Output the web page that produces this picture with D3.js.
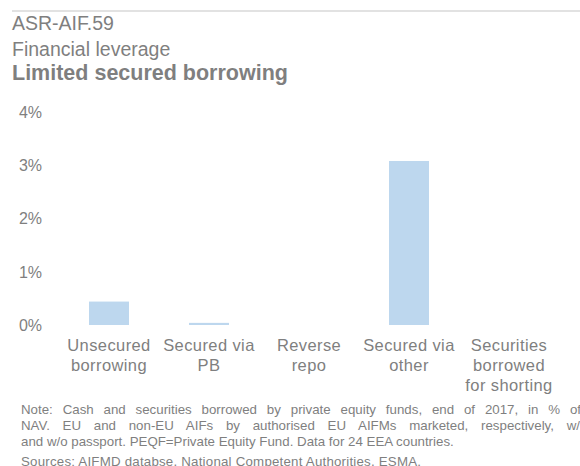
<!DOCTYPE html>
<html>
<head>
<meta charset="utf-8">
<script src="https://cdn.jsdelivr.net/npm/d3@7"></script>
<style>
  body { margin: 0; background: #fff; }
  svg text { font-family: "Liberation Sans", Arial, sans-serif; fill: #7f7f7f; }
</style>
</head>
<body>
<svg id="vis" width="580" height="466"></svg>
<script>
// categories and values (% of NAV)
let categories = [
    ["Unsecured", "borrowing"],
    ["Secured via", "PB"],
    ["Reverse", "repo"],
    ["Secured via", "other"],
    ["Securities", "borrowed", "for shorting"]
];
let values = [0.44, 0.04, 0, 3.08, 0];
let yTicks = [0, 1, 2, 3, 4];
let notes = [
    "Note: Cash and securities borrowed by private equity funds, end of 2017, in % of",
    "NAV. EU and non-EU AIFs by authorised EU AIFMs marketed, respectively, w/",
    "and w/o passport. PEQF=Private Equity Fund. Data for 24 EEA countries.",
    "Sources: AIFMD databse, National Competent Authorities, ESMA."
];
// where each note line ends in the reference
let noteEnds = [581, 580, 398, 421];

let svg = d3.select("#vis");

// header
svg.append("line")
    .attr("x1", 12).attr("x2", 580)
    .attr("y1", 11).attr("y2", 11)
    .attr("stroke", "#d9d9d9")
    .attr("stroke-width", 1.5);

svg.append("text").attr("x", 12).attr("y", 30)
    .attr("font-size", "19.5px").text("ASR-AIF.59");
svg.append("text").attr("x", 12).attr("y", 56)
    .attr("font-size", "19.5px").text("Financial leverage");
svg.append("text").attr("x", 12).attr("y", 80)
    .attr("font-size", "21.5px").attr("font-weight", "bold")
    .text("Limited secured borrowing");

// scales
let x = d3.scaleBand()
    .domain(d3.range(categories.length))
    .range([59, 559])
    .paddingInner(0.6)
    .paddingOuter(0.3);

let y = d3.scaleLinear()
    .domain([0, 4])
    .range([325, 112]);

// y axis labels
svg.append("g")
    .selectAll("text")
    .data(yTicks)
    .enter()
    .append("text")
    .attr("x", 42)
    .attr("y", d => y(d))
    .attr("dy", "0.36em")
    .attr("text-anchor", "end")
    .attr("font-size", "16px")
    .text(d => d + "%");

// bars
svg.append("g")
    .selectAll("rect")
    .data(values)
    .enter()
    .append("rect")
    .attr("x", (d, i) => x(i))
    .attr("width", x.bandwidth())
    .attr("y", d => y(d))
    .attr("height", d => y(0) - y(d))
    .attr("fill", "#bdd7ee");

// category labels
let cat = svg.append("g")
    .selectAll("text")
    .data(categories)
    .enter()
    .append("text")
    .attr("text-anchor", "middle")
    .attr("font-size", "16.5px")
    .attr("letter-spacing", "0.4px");

cat.selectAll("tspan")
    .data((d, i) => d.map(s => ({ s: s, i: i })))
    .enter()
    .append("tspan")
    .attr("x", d => x(d.i) + x.bandwidth() / 2)
    .attr("y", (d, j) => 351 + j * 20)
    .text(d => d.s);

// notes (sources line sits a bit lower)
let noteText = svg.append("g")
    .selectAll("text")
    .data(notes)
    .enter()
    .append("text")
    .attr("x", 21)
    .attr("y", (d, i) => 414 + i * 16 + (i === 3 ? 4 : 0))
    .attr("font-size", "13.3px")
    .text(d => d);

// justified lines get wider word gaps, the others a little letter spacing
noteText.each(function (d, i) {
    let w = this.getComputedTextLength();
    let room = noteEnds[i] - 21 - w;
    if (room <= 0) return;
    if (i < 2) {
        d3.select(this).attr("word-spacing", room / (d.split(" ").length - 1) + "px");
    } else {
        d3.select(this).attr("letter-spacing", room / (d.length - 1) + "px");
    }
});
</script>
</body>
</html>
